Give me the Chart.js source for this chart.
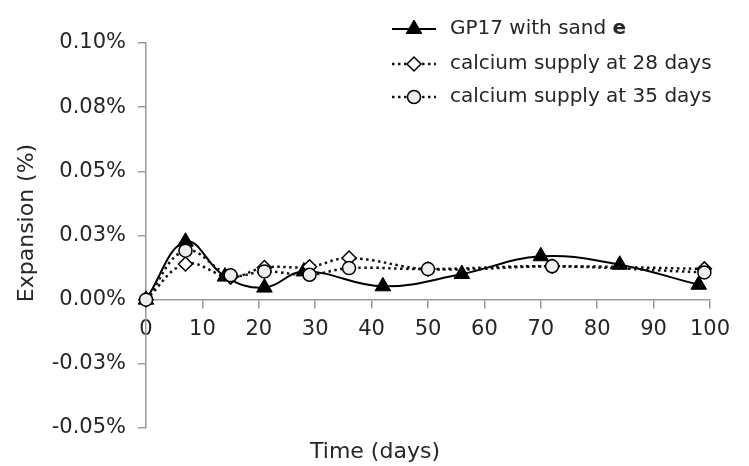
<!DOCTYPE html>
<html>
<head>
<meta charset="utf-8">
<script src="https://cdn.jsdelivr.net/npm/chart.js@4.4.0/dist/chart.umd.min.js"></script>
<style>
  html, body { margin: 0; padding: 0; background: #fff; }
  #wrap { width: 749px; height: 466px; position: relative; }
</style>
</head>
<body>
<div id="wrap"><canvas id="chart"></canvas></div>
<script>
// values, expansion in %
const gpDays = [0, 7, 14, 21, 28, 42, 56, 70, 84, 98];
const gpExpansion = [0, 0.0226, 0.0090, 0.0047, 0.0110, 0.0052, 0.0100, 0.0169, 0.0136, 0.0058];

const ca28Days = [0, 7, 15, 21, 29, 36, 50, 72, 99];
const ca28Expansion = [0, 0.0139, 0.0088, 0.0125, 0.0128, 0.0162, 0.0119, 0.0130, 0.0120];

const ca35Days = [0, 7, 15, 21, 29, 36, 50, 72, 99];
const ca35Expansion = [0, 0.0191, 0.0095, 0.0110, 0.0097, 0.0123, 0.0119, 0.0130, 0.0106];

const seriesNames = ['GP17 with sand ', 'calcium supply at 28 days', 'calcium supply at 35 days'];
const seriesBoldSuffix = ['e', '', ''];
const yTickLabels = ['-0.05%', '-0.03%', '0.00%', '0.03%', '0.05%', '0.08%', '0.10%'];
const xTitle = 'Time (days)';
const yTitle = 'Expansion (%)';

const FONT = 'DejaVu Sans';
const INK = '#262626';
const AXIS = '#9a9a9a';

const pairs = (xs, ys) => xs.map((x, i) => ({ x: x, y: ys[i] }));

// titles + legend drawn by hand (legend is a vertical list with line samples)
const legendRows = [29, 64, 97];

const overlayPlugin = {
  id: 'overlay',
  afterDraw(chart) {
    const ctx = chart.ctx;

    ctx.save();
    ctx.fillStyle = INK;
    ctx.font = '22px "' + FONT + '"';
    ctx.textAlign = 'center';
    ctx.textBaseline = 'middle';
    ctx.fillText(xTitle, 375, 452);
    ctx.translate(27, 223);
    ctx.rotate(-Math.PI / 2);
    ctx.fillText(yTitle, 0, 0);
    ctx.restore();

    chart.data.datasets.forEach((ds, i) => {
      const y = legendRows[i];
      ctx.save();
      ctx.strokeStyle = ds.borderColor;
      ctx.lineWidth = ds.borderWidth;
      ctx.setLineDash(ds.borderDash || []);
      ctx.beginPath();
      ctx.moveTo(392, y);
      ctx.lineTo(436, y);
      ctx.stroke();
      ctx.setLineDash([]);
      ctx.fillStyle = ds.pointBackgroundColor;
      ctx.strokeStyle = ds.pointBorderColor;
      ctx.lineWidth = ds.pointBorderWidth;
      Chart.helpers.drawPoint(ctx, {
        pointStyle: ds.pointStyle, radius: ds.pointRadius,
        borderWidth: ds.pointBorderWidth, rotation: 0
      }, 414, y);

      ctx.fillStyle = INK;
      ctx.textAlign = 'left';
      ctx.textBaseline = 'middle';
      ctx.font = '20px "' + FONT + '"';
      ctx.fillText(seriesNames[i], 450, y);
      if (seriesBoldSuffix[i]) {
        const w = ctx.measureText(seriesNames[i]).width;
        ctx.font = 'bold 20px "' + FONT + '"';
        ctx.fillText(seriesBoldSuffix[i], 450 + w, y);
      }
      ctx.restore();
    });
  }
};

new Chart(document.getElementById('chart'), {
  type: 'line',
  data: {
    datasets: [
      {
        label: seriesNames[0] + seriesBoldSuffix[0],
        data: pairs(gpDays, gpExpansion),
        borderColor: '#000', borderWidth: 2,
        pointStyle: 'triangle', pointRadius: 9,
        pointBackgroundColor: '#000', pointBorderColor: '#000', pointBorderWidth: 1,
        tension: 0.4, order: 2, clip: false
      },
      {
        label: seriesNames[1],
        data: pairs(ca28Days, ca28Expansion),
        borderColor: '#111', borderWidth: 2.5, borderDash: [2.5, 3.5],
        pointStyle: 'rectRot', pointRadius: 7,
        pointBackgroundColor: '#fff', pointBorderColor: '#000', pointBorderWidth: 1.5,
        tension: 0.4, order: 1, clip: false
      },
      {
        label: seriesNames[2],
        data: pairs(ca35Days, ca35Expansion),
        borderColor: '#111', borderWidth: 2.5, borderDash: [2.5, 3.5],
        pointStyle: 'circle', pointRadius: 6.5,
        pointBackgroundColor: '#eeeeee', pointBorderColor: '#000', pointBorderWidth: 1.5,
        tension: 0.4, order: 0, clip: false
      }
    ]
  },
  options: {
    responsive: true,
    maintainAspectRatio: false,
    animation: false,
    layout: { padding: { left: 0, top: 43, right: 39, bottom: 38 } },
    plugins: { legend: { display: false }, tooltip: { enabled: false } },
    scales: {
      x: {
        type: 'linear',
        position: { y: 0 },
        min: 0, max: 100,
        ticks: { stepSize: 10, color: INK, font: { family: FONT, size: 21 }, padding: 9, maxRotation: 0, autoSkip: false },
        grid: { drawOnChartArea: false, drawTicks: true, tickLength: 8, color: AXIS, lineWidth: 1.5 },
        border: { color: AXIS, width: 1.5 },
        afterFit: s => { s.height = 0; }
      },
      y: {
        position: 'left',
        min: -0.05, max: 0.1,
        ticks: {
          stepSize: 0.025, color: INK, font: { family: FONT, size: 21 }, padding: 12,
          callback: (v, i) => yTickLabels[i]
        },
        grid: { drawOnChartArea: false, drawTicks: true, tickLength: 8, color: AXIS, lineWidth: 1.5 },
        border: { color: AXIS, width: 1.5 },
        afterFit: s => { s.width = 146; }
      }
    }
  },
  plugins: [overlayPlugin]
});
</script>
</body>
</html>
